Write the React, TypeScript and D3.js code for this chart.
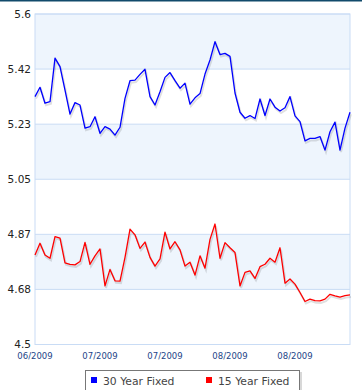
import React, { useEffect, useRef } from 'react';
import * as d3 from 'd3';

// 30 year fixed rates, one value per day
const fixed30 = [
  5.325, 5.356, 5.303, 5.308, 5.453, 5.425, 5.347, 5.267, 5.305, 5.297,
  5.22, 5.225, 5.258, 5.203, 5.225, 5.217, 5.197, 5.223, 5.319, 5.378,
  5.38, 5.399, 5.416, 5.325, 5.297, 5.341, 5.389, 5.405, 5.378, 5.353,
  5.37, 5.3, 5.321, 5.335, 5.4, 5.447, 5.508, 5.465, 5.469, 5.459,
  5.337, 5.273, 5.253, 5.262, 5.252, 5.317, 5.262, 5.317, 5.29, 5.277,
  5.288, 5.325, 5.261, 5.242, 5.178, 5.186, 5.186, 5.192, 5.147, 5.208,
  5.24, 5.147, 5.22, 5.273,
];

// 15 year fixed rates
const fixed15 = [
  4.798, 4.837, 4.798, 4.787, 4.859, 4.854, 4.772, 4.767, 4.765, 4.776,
  4.84, 4.767, 4.795, 4.818, 4.695, 4.75, 4.712, 4.711, 4.79, 4.884,
  4.865, 4.82, 4.841, 4.79, 4.761, 4.785, 4.874, 4.818, 4.842, 4.815,
  4.761, 4.774, 4.731, 4.795, 4.754, 4.85, 4.901, 4.787, 4.839, 4.822,
  4.806, 4.695, 4.74, 4.745, 4.72, 4.759, 4.767, 4.787, 4.774, 4.822,
  4.704, 4.718, 4.701, 4.673, 4.643, 4.651, 4.646, 4.645, 4.651, 4.667,
  4.662, 4.658, 4.663, 4.665,
];

const seriesNames = ['30 Year Fixed', '15 Year Fixed'];
const seriesColors = ['#0000ff', '#ff0000'];

const yTickLabels = ['4.5', '4.68', '4.87', '5.05', '5.23', '5.42', '5.6'];
const xTickIndex = [0, 13, 26, 39, 52];
const xTickLabels = ['06/2009', '07/2009', '07/2009', '08/2009', '08/2009'];

const W = 362;
const H = 390;

export default function App() {
  const ref = useRef<SVGSVGElement>(null);

  useEffect(() => {
    const svg = d3.select(ref.current);
    svg.selectAll('*').remove();

    const left = 35, right = 350, top = 14, bottom = 344.5;
    const font = 'DejaVu Sans, Verdana, sans-serif';

    const x = d3.scaleLinear().domain([0, fixed30.length - 1]).range([left, right]);
    const y = d3.scaleLinear().domain([4.5, 5.6]).range([bottom, top]);
    const yTicks = yTickLabels.map((_, i) => 4.5 + (i * 1.1) / 6);

    // dark strip at the very top
    svg.append('rect').attr('x', 0).attr('y', 0).attr('width', W).attr('height', 1.5).attr('fill', '#114a6b');

    // alternating bands
    for (let i = 0; i < yTicks.length - 1; i++) {
      svg
        .append('rect')
        .attr('x', left)
        .attr('y', y(yTicks[i + 1]))
        .attr('width', right - left)
        .attr('height', y(yTicks[i]) - y(yTicks[i + 1]))
        .attr('fill', i % 2 === 0 ? '#ffffff' : '#eef5fd');
    }

    // grid lines
    svg
      .selectAll('line.grid')
      .data(yTicks)
      .enter()
      .append('line')
      .attr('x1', left)
      .attr('x2', right)
      .attr('y1', d => y(d))
      .attr('y2', d => y(d))
      .attr('stroke', '#c9dcf5')
      .attr('stroke-width', 1);

    // plot frame
    svg
      .append('rect')
      .attr('x', left)
      .attr('y', top)
      .attr('width', right - left)
      .attr('height', bottom - top)
      .attr('fill', 'none')
      .attr('stroke', '#c9dcf5');

    // y labels
    svg
      .selectAll('text.ylab')
      .data(yTicks)
      .enter()
      .append('text')
      .attr('x', 31)
      .attr('y', d => y(d))
      .attr('dy', '0.36em')
      .attr('text-anchor', 'end')
      .style('font-family', font)
      .style('font-size', '10.5px')
      .attr('fill', '#222')
      .text((_, i) => yTickLabels[i]);

    // x labels
    svg
      .selectAll('text.xlab')
      .data(xTickIndex)
      .enter()
      .append('text')
      .attr('x', d => x(d))
      .attr('y', 359)
      .attr('text-anchor', 'middle')
      .style('font-family', font)
      .style('font-size', '8.5px')
      .attr('fill', '#1d4588')
      .text((_, i) => xTickLabels[i]);

    const line = d3
      .line<number>()
      .x((_, i) => x(i))
      .y(d => y(d));

    [fixed30, fixed15].forEach((data, k) => {
      svg
        .append('path')
        .datum(data)
        .attr('d', line)
        .attr('fill', 'none')
        .attr('stroke', 'rgba(0,0,0,0.12)')
        .attr('stroke-width', 2)
        .attr('transform', 'translate(1,2)');
      svg
        .append('path')
        .datum(data)
        .attr('d', line)
        .attr('fill', 'none')
        .attr('stroke', seriesColors[k])
        .attr('stroke-width', 1.3)
        .attr('stroke-linejoin', 'round');
    });

    // legend
    const lg = svg.append('g');
    lg.append('rect')
      .attr('x', 87)
      .attr('y', 372)
      .attr('width', 215)
      .attr('height', 30)
      .attr('fill', '#d8d8d8');
    lg.append('rect')
      .attr('x', 85.5)
      .attr('y', 370.5)
      .attr('width', 214)
      .attr('height', 30)
      .attr('fill', '#fff')
      .attr('stroke', '#777');
    const legX = [91, 206];
    seriesNames.forEach((name, k) => {
      lg.append('rect')
        .attr('x', legX[k])
        .attr('y', 377)
        .attr('width', 6)
        .attr('height', 6)
        .attr('fill', seriesColors[k]);
      lg.append('text')
        .attr('x', legX[k] + 12)
        .attr('y', 384.5)
        .style('font-family', font)
        .style('font-size', '10.8px')
        .attr('fill', '#444')
        .text(name);
    });
  }, []);

  return (
    <svg
      ref={ref}
      width={W}
      height={H}
      style={{ position: 'absolute', left: 0, top: 0, background: '#fff' }}
    />
  );
}
